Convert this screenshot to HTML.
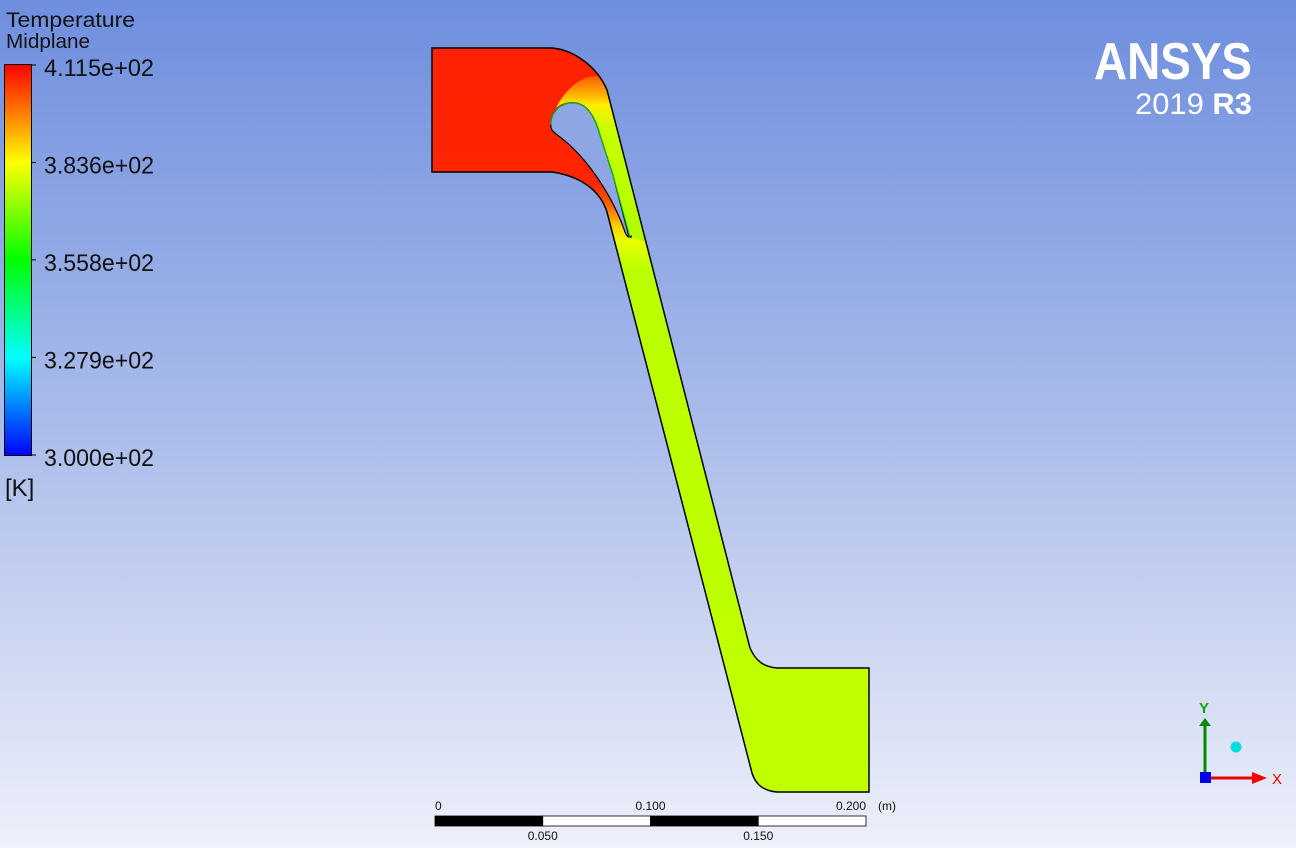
<!DOCTYPE html>
<html><head><meta charset="utf-8"><style>
html,body{margin:0;padding:0;width:1296px;height:848px;overflow:hidden;font-family:"Liberation Sans",sans-serif;}
svg{display:block}
</style></head><body>
<svg width="1296" height="848" viewBox="0 0 1296 848">
<defs>
<linearGradient id="bg" x1="0" y1="0" x2="0" y2="1">
<stop offset="0" stop-color="#6e8ede"/><stop offset="0.5" stop-color="#aabcea"/><stop offset="1" stop-color="#eef0fa"/>
</linearGradient>
<linearGradient id="cbar" x1="0" y1="1" x2="0" y2="0">
<stop offset="0" stop-color="#0000ff"/><stop offset="0.25" stop-color="#00ffff"/><stop offset="0.5" stop-color="#00ff00"/><stop offset="0.75" stop-color="#ffff00"/><stop offset="1" stop-color="#ff0000"/>
</linearGradient>
<linearGradient id="temp" gradientUnits="userSpaceOnUse" x1="0" y1="40" x2="0" y2="800">
<stop offset="0" stop-color="#ff2000"/><stop offset="0.19" stop-color="#ff2600"/><stop offset="0.22" stop-color="#ff6a00"/><stop offset="0.245" stop-color="#ffd000"/><stop offset="0.265" stop-color="#e8ff00"/><stop offset="0.3" stop-color="#bcff00"/><stop offset="1" stop-color="#c0ff00"/>
</linearGradient>
<linearGradient id="upper" gradientUnits="userSpaceOnUse" x1="0" y1="60" x2="0" y2="240">
<stop offset="0" stop-color="#ff7000" stop-opacity="0"/><stop offset="0.12" stop-color="#ff9a00" stop-opacity="0.7"/><stop offset="0.25" stop-color="#ffee00"/><stop offset="0.38" stop-color="#c8ff00"/><stop offset="1" stop-color="#b0ff00"/>
</linearGradient>
</defs>
<rect width="1296" height="848" fill="url(#bg)"/>

<path fill="url(#temp)"
d="M432,48 L552,48 C575,50 598,68 607,90 L750,648 C756,662 765,667 777,668 L869,668 L869,792 L777,792 C765,791 756,786 752,773 L607,212 C600,190 580,176 552,172 L432,172 Z"/>
<path fill="url(#upper)"
d="M556,108 C570,80 595,70 604,80 L607,90 L646,242 L631,237 L627,230 L613,175 L600,135 C596,120 590,108 580,104 C572,101 562,102 556,108 Z"/>
<path fill="none" stroke="#000" stroke-width="1.5"
d="M432,48 L552,48 C575,50 598,68 607,90 L750,648 C756,662 765,667 777,668 L869,668 L869,792 L777,792 C765,791 756,786 752,773 L607,212 C600,190 580,176 552,172 L432,172 Z"/>
<path fill="#8fa6e4" stroke="#000" stroke-width="1.2"
d="M551,125 C550,116 556,106 568,103 C580,101 592,106 600,135 L613,175 L628,233 C629,238 632,238 631,236 C629,238 627,237 625,232 C614,200 590,160 560,137 C553,132 550,129 551,125 Z"/>
<path d="M551,125 C550,116 556,106 568,103 C580,101 592,106 600,135 L613,175 L630,237" fill="none" stroke="#00d000" stroke-width="1"/>

<g>
<text x="6" y="27" font-size="21" fill="#111" textLength="129" lengthAdjust="spacingAndGlyphs">Temperature</text>
<text x="6" y="48" font-size="20" fill="#111" textLength="84" lengthAdjust="spacingAndGlyphs">Midplane</text>
<rect x="4.5" y="64.5" width="27" height="391" fill="url(#cbar)" stroke="#000"/>
<g id="ticks"></g>
<text x="5" y="496" font-size="24" fill="#111">[K]</text>
</g>

<g>
<text x="1094" y="79" font-size="52" font-weight="bold" fill="#fff" textLength="158" lengthAdjust="spacingAndGlyphs">ANSYS</text>
<text x="1135" y="114" font-size="30" fill="#fff" textLength="117" lengthAdjust="spacingAndGlyphs">2019 <tspan font-weight="bold">R3</tspan></text>
</g>

<g id="scale"></g>

<g>
<line x1="1205" y1="777" x2="1205" y2="726" stroke="#008800" stroke-width="3"/>
<polygon points="1199,726 1211,726 1205,718" fill="#008800"/>
<text x="1199" y="713" font-size="15" font-weight="bold" fill="#00aa00">Y</text>
<line x1="1205" y1="778" x2="1255" y2="778" stroke="#ee0000" stroke-width="3"/>
<polygon points="1252,772 1252,784 1267,778" fill="#ee0000"/>
<text x="1272" y="784" font-size="15" fill="#ee0000">X</text>
<rect x="1200" y="772" width="11" height="11" fill="#0000ee"/>
<circle cx="1236" cy="747" r="5.5" fill="#00dddd"/>
</g>
</svg>
<script>
const tickLabels=["4.115e+02","3.836e+02","3.558e+02","3.279e+02","3.000e+02"];
const tickValues=[411.5,383.6,355.8,327.9,300.0];
const scaleTop=["0","0.100","0.200"];
const scaleTopVals=[0,0.1,0.2];
const scaleBottom=["0.050","0.150"];
const scaleBottomVals=[0.05,0.15];
const NS="http://www.w3.org/2000/svg";
const yT=v=>65+(411.5-v)/(411.5-300)*390;
const g=document.getElementById('ticks');
tickValues.forEach((v,i)=>{
 const y=yT(v);
 const l=document.createElementNS(NS,'line');
 l.setAttribute('x1',32);l.setAttribute('x2',36);l.setAttribute('y1',y);l.setAttribute('y2',y);l.setAttribute('stroke','#000');
 
 
 g.appendChild(l);
 const t=document.createElementNS(NS,'text');
 t.setAttribute('x',44);t.setAttribute('y',y+11);t.setAttribute('font-size','24');t.setAttribute('fill','#111');
 t.setAttribute('textLength','110');t.setAttribute('lengthAdjust','spacingAndGlyphs');
 t.textContent=tickLabels[i];
 
 
 g.appendChild(t);
});
const s=document.getElementById('scale');
const xS=v=>435+v/0.2*431;
for(let i=0;i<4;i++){
 const r=document.createElementNS(NS,'rect');
 r.setAttribute('x',xS(i*0.05));r.setAttribute('y',816);r.setAttribute('width',xS(0.05)-435);r.setAttribute('height',10);
 r.setAttribute('fill',i%2?'#fff':'#000');r.setAttribute('stroke','#000');r.setAttribute('stroke-width','0.8');
 
 
 s.appendChild(r);
}
scaleTopVals.forEach((v,i)=>{
 const t=document.createElementNS(NS,'text');
 t.setAttribute('x',xS(v));t.setAttribute('y',810);t.setAttribute('font-size','12');t.setAttribute('fill','#111');
 t.setAttribute('text-anchor',i==0?'start':(i==2?'end':'middle'));
 t.textContent=scaleTop[i];
 
 
 s.appendChild(t);
});
scaleBottomVals.forEach((v,i)=>{
 const t=document.createElementNS(NS,'text');
 t.setAttribute('x',xS(v));t.setAttribute('y',840);t.setAttribute('font-size','12');t.setAttribute('fill','#111');
 t.setAttribute('text-anchor','middle');
 t.textContent=scaleBottom[i];
 
 
 s.appendChild(t);
});
const u=document.createElementNS(NS,'text');
u.setAttribute('x',878);u.setAttribute('y',810);u.setAttribute('font-size','12');u.setAttribute('fill','#111');
u.textContent='(m)';


s.appendChild(u);
</script>
</body></html>
